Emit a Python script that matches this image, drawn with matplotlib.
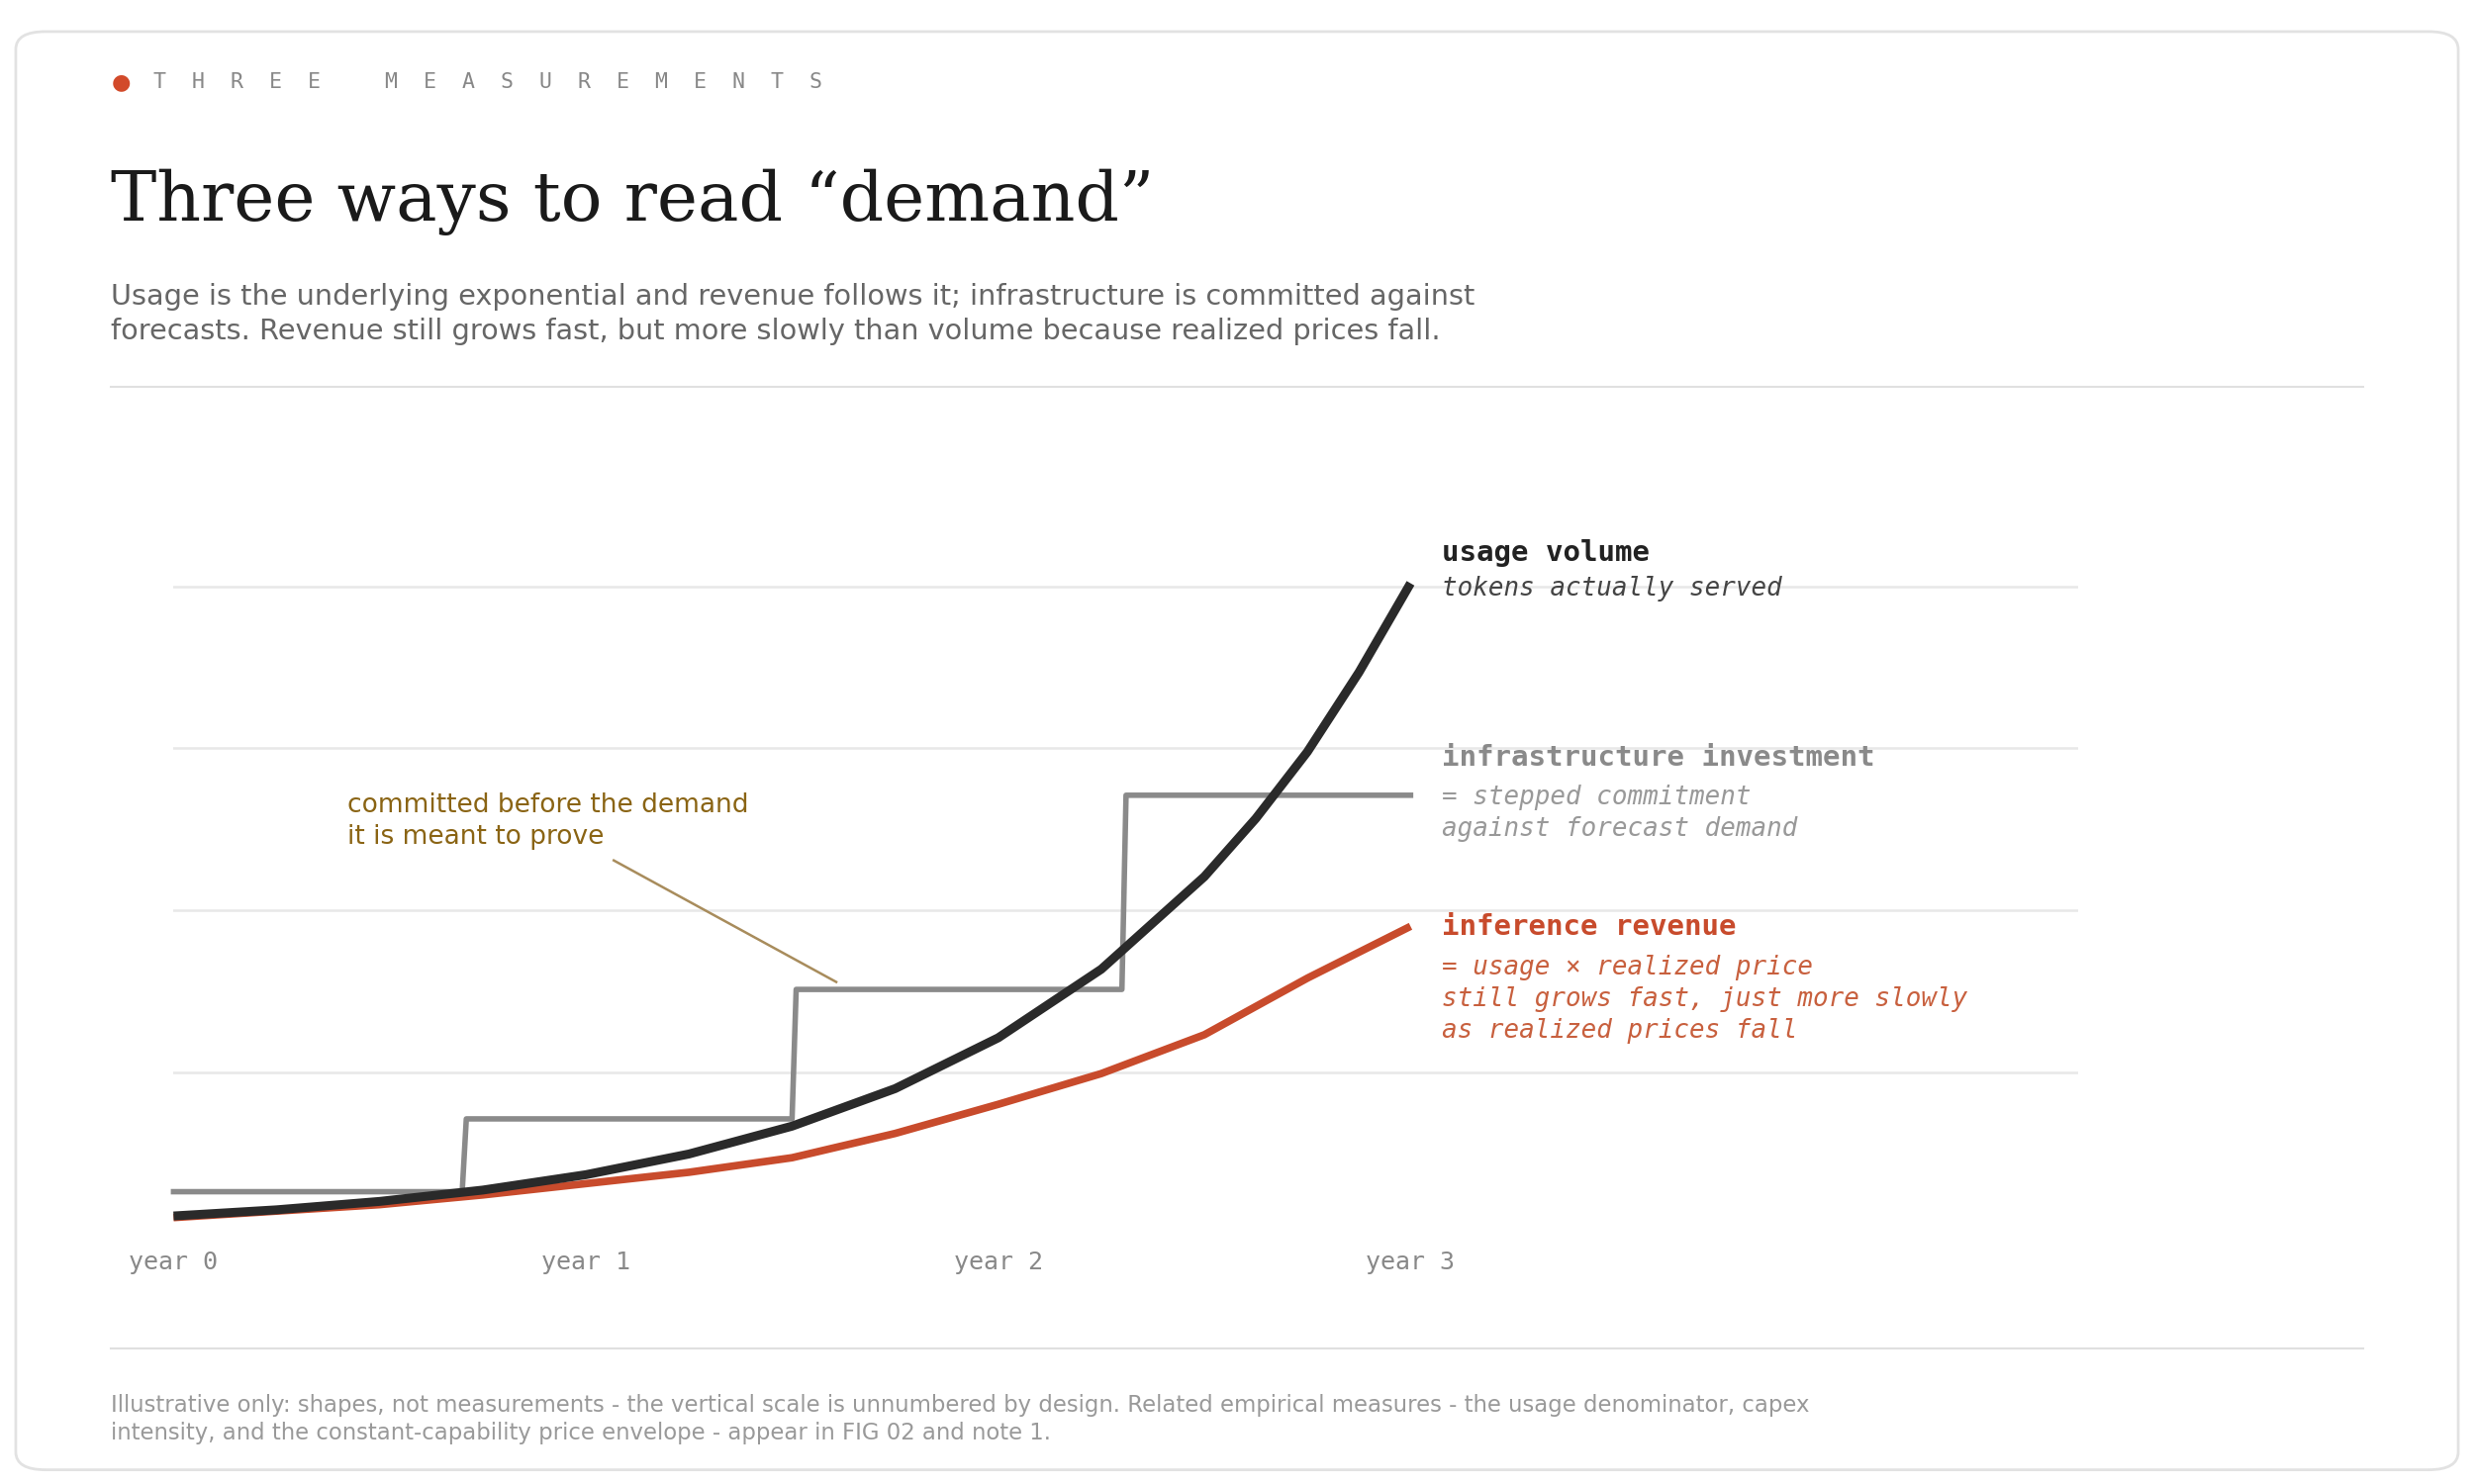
import matplotlib
matplotlib.use("Agg")
import matplotlib.pyplot as plt
from matplotlib.patches import FancyBboxPatch
from matplotlib.lines import Line2D

years = [0, 0.25, 0.5, 0.75, 1, 1.25, 1.5, 1.75, 2, 2.25, 2.5, 2.625, 2.75, 2.875, 3]
usage = [0.11, 0.148, 0.200, 0.270, 0.365, 0.493, 0.665, 0.897, 1.211, 1.635, 2.207, 2.567, 2.979, 3.47, 4.02]
rev_years = [0, 0.25, 0.5, 0.75, 1, 1.25, 1.5, 1.75, 2, 2.25, 2.5, 2.75, 3]
revenue = [0.10, 0.14, 0.18, 0.24, 0.31, 0.38, 0.47, 0.62, 0.80, 0.99, 1.23, 1.58, 1.90]
infra_x = [0, 0.70, 0.71, 1.50, 1.51, 2.30, 2.31, 3.0]
infra_y = [0.26, 0.26, 0.71, 0.71, 1.51, 1.51, 2.71, 2.71]
tick_pos = [0, 1, 2, 3]
tick_labels = ["year 0", "year 1", "year 2", "year 3"]
grid_levels = [1, 2, 3, 4]

W, H = 1568, 940
fig = plt.figure(figsize=(25, 15), dpi=100)
fx = lambda x: x / W
fy = lambda y: 1 - y / H

fig.patches.append(FancyBboxPatch((fx(10), fy(931)), fx(1548), (921 - 10) / H,
    boxstyle="round,pad=0,rounding_size=0.012", transform=fig.transFigure,
    facecolor="none", edgecolor="#e2e2e2", linewidth=2, zorder=-5))

mono = "DejaVu Sans Mono"
fig.text(fx(77), fy(52), "●", color="#d24a2a", fontsize=16, ha="center", va="center")
fig.text(fx(97), fy(52), "T  H  R  E  E     M  E  A  S  U  R  E  M  E  N  T  S", family=mono, color="#888888",
         fontsize=15.5, va="center")
fig.text(fx(70), fy(128), "Three ways to read \u201cdemand\u201d", family="DejaVu Serif",
         fontsize=50, color="#1a1a1a", va="center")
fig.text(fx(70), fy(199), "Usage is the underlying exponential and revenue follows it; infrastructure is committed against\n"
         "forecasts. Revenue still grows fast, but more slowly than volume because realized prices fall.",
         fontsize=20.7, color="#666666", va="center", linespacing=1.3)
for yy in (245, 854):
    fig.add_artist(Line2D([fx(70), fx(1498)], [fy(yy), fy(yy)], transform=fig.transFigure,
                          color="#e0e0e0", lw=1.5))
fig.text(fx(70), fy(899), "Illustrative only: shapes, not measurements - the vertical scale is unnumbered by design. Related empirical measures - the usage denominator, capex\n"
         "intensity, and the constant-capability price envelope - appear in FIG 02 and note 1.",
         fontsize=16.4, color="#999999", va="center", linespacing=1.3)

ax = fig.add_axes([fx(110), fy(781.5), fx(1317 - 110), (781.5 - 300) / H])
ax.patch.set_alpha(0)
ax.set_xlim(0, 1207 / 261.33)
ax.set_ylim(0, (781.5 - 300) / 102.5)
for g in grid_levels:
    ax.axhline(g, color="#e8e8e8", lw=1.8, zorder=0)
for s in ax.spines.values():
    s.set_visible(False)
ax.set_yticks([])
ax.set_xticks(tick_pos)
ax.set_xticklabels(tick_labels, family=mono, fontsize=18, color="#888888")
ax.tick_params(axis="x", length=0, pad=12)

ax.plot(infra_x, infra_y, color="#8a8a8a", lw=4, clip_on=False, zorder=2)
ax.plot(rev_years, revenue, color="#c84b2c", lw=5.5, clip_on=False, zorder=3, solid_capstyle="butt")
ax.plot(years, usage, color="#2a2a2a", lw=6.5, clip_on=False, zorder=4, solid_capstyle="butt")

fig.text(fx(914), fy(350), "usage volume", family=mono, weight="bold", fontsize=21, color="#222222", va="center")
fig.text(fx(914), fy(373), "tokens actually served", family=mono, style="italic", fontsize=18.6, color="#444444", va="center")
fig.text(fx(914), fy(480), "infrastructure investment", family=mono, weight="bold", fontsize=21, color="#8a8a8a", va="center")
fig.text(fx(914), fy(515), "= stepped commitment\nagainst forecast demand", family=mono, style="italic",
         fontsize=18.6, color="#999999", va="center", linespacing=1.3)
fig.text(fx(914), fy(587), "inference revenue", family=mono, weight="bold", fontsize=21, color="#c84b2c", va="center")
fig.text(fx(914), fy(633), "= usage × realized price\nstill grows fast, just more slowly\nas realized prices fall",
         family=mono, style="italic", fontsize=18.6, color="#c8603e", va="center", linespacing=1.3)

fig.text(fx(220), fy(520), "committed before the demand\nit is meant to prove", fontsize=19,
         color="#8a6414", va="center", linespacing=1.3)
fig.add_artist(Line2D([fx(389), fx(530)], [fy(545), fy(622)], transform=fig.transFigure,
                      color="#a88c5c", lw=1.8))

fig.savefig("out.png", dpi=100)
